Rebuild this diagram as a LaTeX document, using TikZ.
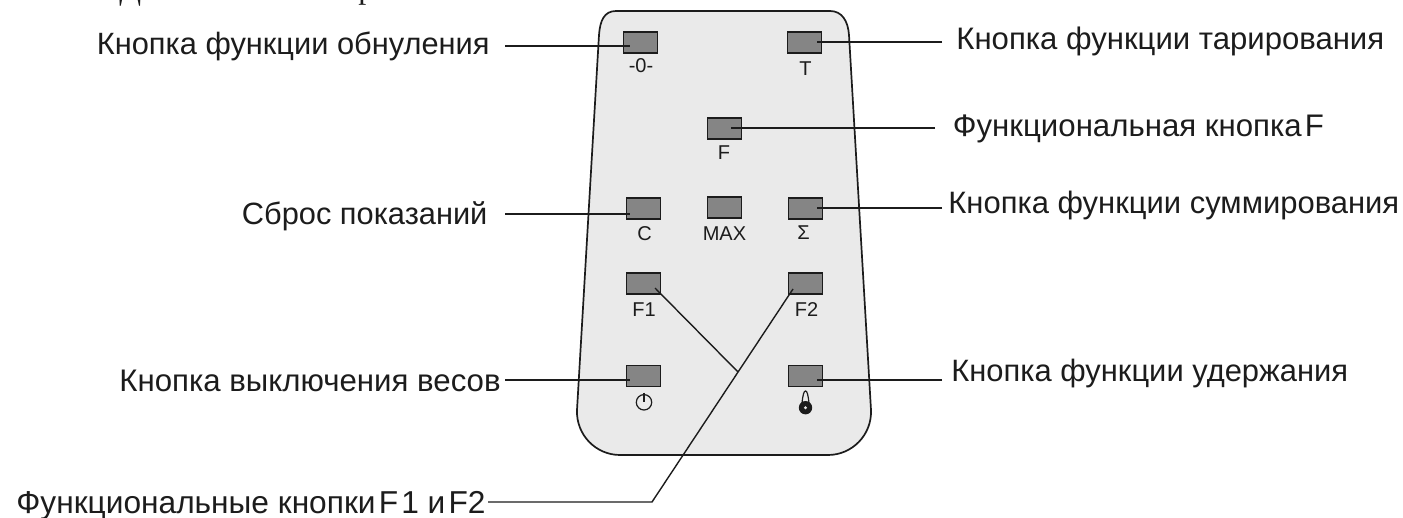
\documentclass[tikz,border=0pt]{standalone}
\usepackage{fontspec}
\setmainfont{Liberation Sans}
\newfontfamily\serifcut{Liberation Serif}
\definecolor{bodyc}{HTML}{EAEAEA}
\definecolor{btnc}{HTML}{858585}
\definecolor{ink}{HTML}{1C1C1C}
\tikzset{
  x=0.5pt,y=-0.5pt,
  labtxt/.style={font=\fontsize{#1}{18}\selectfont,text=ink,inner sep=0pt,anchor=base west},
  smalltxt/.style={font=\fontsize{10}{12}\selectfont,text=ink,inner sep=0pt,anchor=base},
  cuttxt/.style={font=\fontsize{16}{18}\selectfont\serifcut,text=ink,inner sep=0pt,anchor=base west},
  btn/.style={draw=ink,line width=0.75pt,fill=btnc,minimum width=17.1pt,minimum height=10.3pt,inner sep=0pt,outer sep=0pt},
  conn/.style={draw=ink,line width=0.7pt},
}
\begin{document}
\begin{tikzpicture}
\useasboundingbox (0,0) rectangle (1403,518);
% cut-off line of text at the top edge
\begin{scope}
\clip (0,0) rectangle (1403,518);
\node[cuttxt] (cuta) at (119,0) {Д};
\node[cuttxt] (cutb) at (358,-1) {р};
\end{scope}
% body
\draw[ink,line width=0.85pt,fill=bodyc]
  (616,11) -- (830,11) .. controls (842,11) and (848,21) .. (849,35)
  -- (871,410) .. controls (872,435) and (852,455) .. (828,455)
  -- (620,455) .. controls (596,455) and (576,435) .. (577,410)
  -- (599,35) .. controls (600,21) and (604,11) .. (616,11) -- cycle;
% buttons
\node[btn] (bz) at (640.5,42.5) {};
\node[btn] (bt) at (804.5,42.5) {};
\node[btn] (bf) at (724.5,128.5) {};
\node[btn] (bc) at (643.5,208.5) {};
\node[btn] (bm) at (724.5,207.5) {};
\node[btn] (bs) at (805.5,208.5) {};
\node[btn] (bfa) at (643.5,283.5) {};
\node[btn] (bfb) at (805.5,283.5) {};
\node[btn] (boff) at (643.5,376) {};
\node[btn] (bh) at (805.5,376) {};
% button captions
\node[smalltxt] (cz) at (641,73) {-0-};
\node[smalltxt] (ct) at (805.5,76) {T};
\node[smalltxt] (cf) at (724,160) {F};
\node[smalltxt] (cc) at (644.5,241) {C};
\node[smalltxt] (cm) at (724.5,241) {MAX};
\node[smalltxt] (cs) at (803.5,240) {Σ};
\node[smalltxt] (cfa) at (644,317) {F1};
\node[smalltxt] (cfb) at (806.5,317) {F2};
% off symbol
\coordinate (pw) at (644,402.3);
\draw[ink,line width=0.6pt] (pw) circle (7.7);
\draw[ink,line width=0.6pt] (644,392.7) -- (pw);
% lock symbol
\coordinate (lk) at (805.5,407.7);
\draw[ink,line width=0.6pt] (802,403) .. controls (803,394) and (804,391) .. (805.5,391) .. controls (807,391) and (808,394) .. (809,403);
\fill[ink] (lk) circle (6.7);
\fill[bodyc] (lk) circle (1.6);
% labels
\node[labtxt=15.4] (lz) at (96.5,54.5) {Кнопка функции обнуления};
\node[labtxt=15.55] (lt) at (956,49.5) {Кнопка функции тарирования};
\node[labtxt=15.6] (lf) at (952.5,137) {Функциональная кнопка\hspace{0.1em}F};
\node[labtxt=15.4] (lc) at (241.5,224.5) {Сброс показаний};
\node[labtxt=15.48] (ls) at (948,214) {Кнопка функции суммирования};
\node[labtxt=15.6] (loff) at (119,391) {Кнопка выключения весов};
\node[labtxt=15.45] (lh) at (951,381) {Кнопка функции удержания};
\node[labtxt=15.84] (lff) at (16,513) {Функциональные кнопки\hspace{0.1em}F\hspace{0.1em}1 и\hspace{0.1em}F2};
% connector end points
\coordinate (ez) at (630,46);
\coordinate (et) at (817,42);
\coordinate (ef) at (731,128);
\coordinate (ec) at (630,214);
\coordinate (es) at (817,208);
\coordinate (eoff) at (630,380);
\coordinate (eh) at (817,380);
\coordinate (efa) at (655,288);
\coordinate (efb) at (793,289);
\coordinate (sz) at (505,46);
\coordinate (st) at (942,42);
\coordinate (sf) at (935,128);
\coordinate (sc) at (505,214);
\coordinate (ss) at (942,208);
\coordinate (soff) at (505,380);
\coordinate (sh) at (942,380);
\coordinate (sff) at (488,502);
\coordinate (kink) at (652,502);
\coordinate (jn) at (738,372);
% connectors
\draw[conn] (sz) -- (ez);
\draw[conn] (st) -- (et);
\draw[conn] (sf) -- (ef);
\draw[conn] (sc) -- (ec);
\draw[conn] (ss) -- (es);
\draw[conn] (soff) -- (eoff);
\draw[conn] (sh) -- (eh);
\draw[conn] (sff) -- (kink) -- (efb);
\draw[conn] (efa) -- (jn);
\end{tikzpicture}
\end{document}
